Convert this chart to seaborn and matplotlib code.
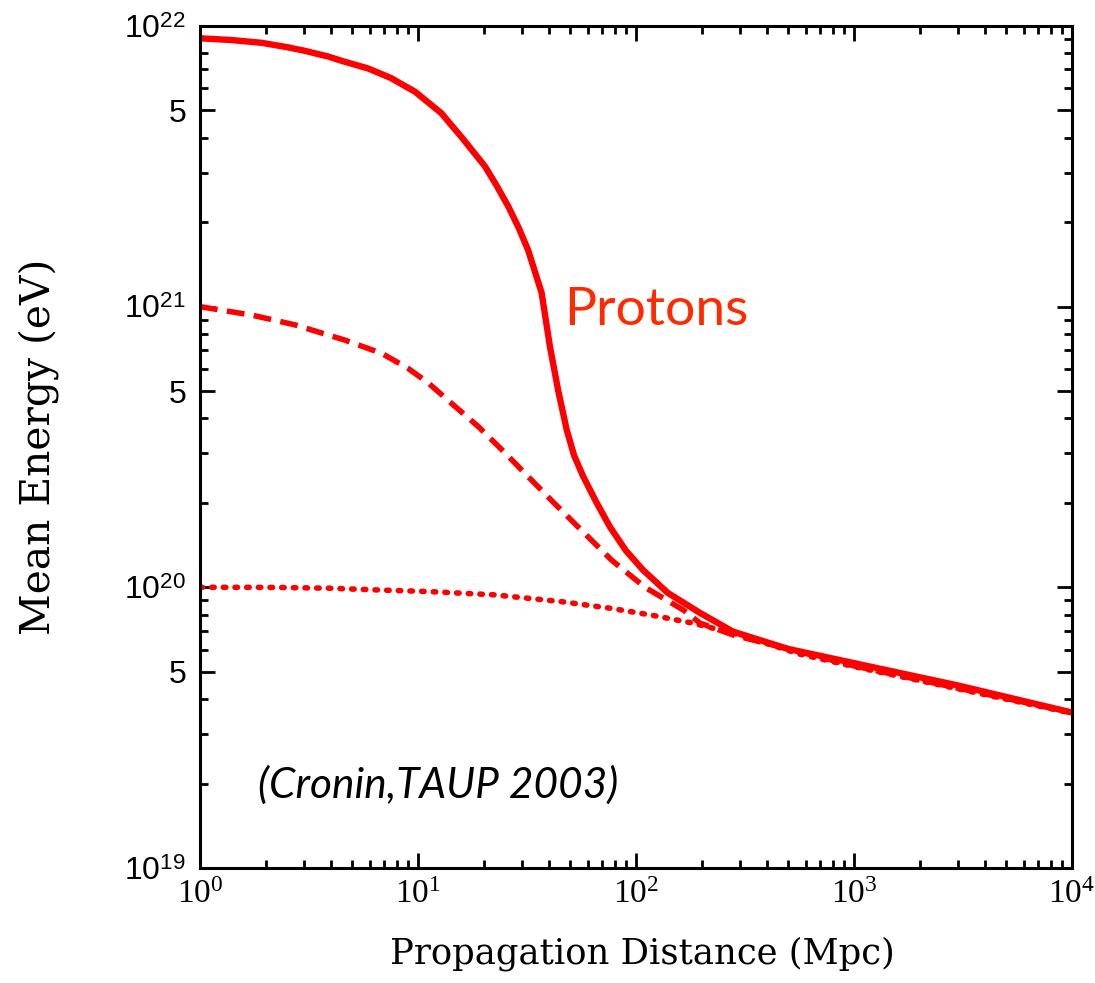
import matplotlib
matplotlib.use("Agg")
import matplotlib.pyplot as plt
import matplotlib.ticker as mticker
import numpy as np
import pandas as pd
import seaborn as sns

# Mean proton energy vs. propagation distance for three injection energies
dist_1e22 = [1, 1.4, 1.92, 2.5, 3.0, 3.88, 4.5, 5.9, 7.5, 9.7, 12.8, 16, 20.3,
             23, 26, 29, 32, 36.9, 40.3, 44, 48.1, 52, 57.3, 66, 76, 90, 108,
             140, 197, 279, 500, 1000, 3000, 10000]
energy_1e22 = [9.04e21, 8.91e21, 8.71e21, 8.41e21, 8.17e21, 7.78e21, 7.50e21,
               7.06e21, 6.53e21, 5.83e21, 4.89e21, 3.98e21, 3.16e21, 2.69e21,
               2.27e21, 1.905e21, 1.59e21, 1.12e21, 7.2e20, 5.01e20, 3.64e20,
               2.95e20, 2.48e20, 2.0e20, 1.64e20, 1.35e20, 1.15e20, 9.55e19,
               8.1e19, 6.95e19, 6.03e19, 5.37e19, 4.47e19, 3.58e19]

dist_1e21 = [1, 1.73, 2.73, 4.62, 6.81, 9, 11.2, 14.5, 18.9, 25, 32, 42, 54.3,
             77.3, 110, 165, 197, 280, 565, 1000, 10000]
energy_1e21 = [1.0e21, 9.33e20, 8.61e20, 7.60e20, 6.82e20, 6.03e20, 5.33e20,
               4.47e20, 3.74e20, 3.02e20, 2.48e20, 2.0e20, 1.64e20, 1.25e20,
               1.0e20, 8.3e19, 7.45e19, 6.76e19, 5.89e19, 5.25e19, 3.58e19]

dist_1e20 = [1, 2, 3.88, 7, 11.2, 22.5, 45.6, 77.3, 120, 183, 300, 565, 1000,
             10000]
energy_1e20 = [1.0e20, 1.0e20, 9.93e19, 9.77e19, 9.66e19, 9.40e19, 8.89e19,
               8.41e19, 7.94e19, 7.45e19, 6.76e19, 5.78e19, 5.22e19, 3.56e19]

x_ticks = [1, 10, 100, 1000, 10000]
x_tick_labels = [r"$\mathrm{10}^{\mathrm{0}}$", r"$\mathrm{10}^{\mathrm{1}}$",
                 r"$\mathrm{10}^{\mathrm{2}}$", r"$\mathrm{10}^{\mathrm{3}}$",
                 r"$\mathrm{10}^{\mathrm{4}}$"]
y_ticks = [1e19, 5e19, 1e20, 5e20, 1e21, 5e21, 1e22]
y_tick_labels = [r"$\mathsf{10}^{\mathsf{19}}$", "5",
                 r"$\mathsf{10}^{\mathsf{20}}$", "5",
                 r"$\mathsf{10}^{\mathsf{21}}$", "5",
                 r"$\mathsf{10}^{\mathsf{22}}$"]

sns.set_style("ticks")
plt.rcParams.update({
    "mathtext.fontset": "custom",
    "mathtext.rm": "Liberation Serif",
    "mathtext.sf": "Liberation Sans",
    "mathtext.it": "Liberation Serif:italic",
    "mathtext.bf": "Liberation Serif:bold",
    "axes.linewidth": 2.2,
    "text.color": "black",
    "axes.labelcolor": "black",
    "xtick.color": "black",
    "ytick.color": "black",
    "axes.edgecolor": "black",
})

fig = plt.figure(figsize=(10.95, 9.83), dpi=100)
ax = fig.add_axes([200 / 1095, 1 - 868 / 983, 872 / 1095, 842 / 983])
ax.set_xscale("log")
ax.set_yscale("log")

red = "#ff0000"
df_a = pd.DataFrame({"d": dist_1e22, "E": energy_1e22})
df_b = pd.DataFrame({"d": dist_1e21, "E": energy_1e21})
df_c = pd.DataFrame({"d": dist_1e20, "E": energy_1e20})

sns.lineplot(data=df_c, x="d", y="E", ax=ax, color=red, lw=4.0,
             linestyle=(0, (0.45, 1.65)), dash_capstyle="round",
             estimator=None, sort=False)
sns.lineplot(data=df_b, x="d", y="E", ax=ax, color=red, lw=4.0,
             linestyle=(0, (3.2, 1.7)), estimator=None, sort=False)
sns.lineplot(data=df_a, x="d", y="E", ax=ax, color=red, lw=4.6,
             estimator=None, sort=False, solid_capstyle="butt",
             solid_joinstyle="round")

ax.set_xlim(1, 1e4)
ax.set_ylim(1e19, 1e22)

ax.xaxis.set_major_locator(mticker.FixedLocator(x_ticks))
ax.xaxis.set_major_formatter(mticker.FixedFormatter(x_tick_labels))
ax.xaxis.set_minor_locator(mticker.LogLocator(base=10, subs=np.arange(2, 10)))
ax.xaxis.set_minor_formatter(mticker.NullFormatter())

ax.yaxis.set_major_locator(mticker.FixedLocator(y_ticks))
ax.yaxis.set_major_formatter(mticker.FixedFormatter(y_tick_labels))
ax.yaxis.set_minor_locator(mticker.LogLocator(base=10, subs=[2, 3, 4, 6, 7, 8, 9]))
ax.yaxis.set_minor_formatter(mticker.NullFormatter())

ax.tick_params(which="both", direction="in", top=True, right=True,
               color="black", width=2.0)
ax.tick_params(which="major", length=11)
ax.tick_params(which="minor", length=5.5)
ax.tick_params(axis="x", which="major", labelsize=24, pad=8)
ax.tick_params(axis="y", which="major", labelsize=23, pad=10)
for lab in ax.get_yticklabels():
    lab.set_family("Liberation Sans")
for lab in ax.get_xticklabels():
    lab.set_family("Liberation Serif")

for side in ["left", "right", "top", "bottom"]:
    ax.spines[side].set_visible(True)
    ax.spines[side].set_linewidth(2.2)
    ax.spines[side].set_color("black")

ax.set_xlabel("Propagation Distance (Mpc)", family="DejaVu Serif",
              fontsize=25.5)
ax.set_ylabel("Mean Energy (eV)", family="DejaVu Serif", fontsize=29.3)
ax.xaxis.set_label_coords(0.507, -0.081)
ax.yaxis.set_label_coords(-0.162, 0.5)

ax.text(0.418, 0.645, "Protons", transform=ax.transAxes, family="Lato",
        fontsize=38.5, color="#ff2a00", ha="left", va="baseline")
ax.text(0.066, 0.084, "(Cronin,TAUP 2003)", transform=ax.transAxes,
        family="Lato", style="italic", fontsize=30.5, color="black",
        ha="left", va="baseline")

fig.savefig("out.png", dpi=100, facecolor="white")
